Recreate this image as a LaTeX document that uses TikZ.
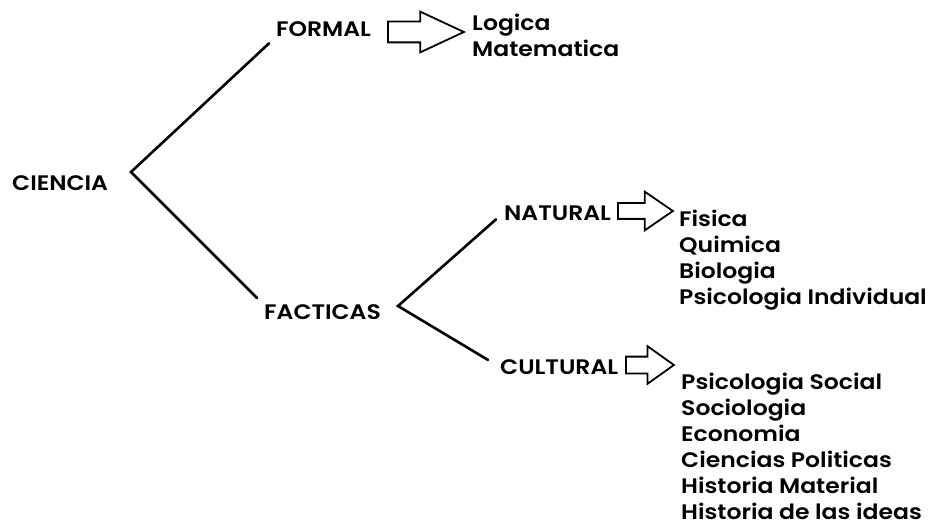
\documentclass[tikz,border=0pt]{standalone}
\usepackage{fontspec}
\setmainfont{Poppins}[UprightFont=* Medium, BoldFont=* SemiBold, FakeStretch=1.12]
\usetikzlibrary{
  calc, % Fuer Koordinatenberechnung
  shapes.arrows % Fuer die Blockpfeile
}

\begin{document}
\begin{tikzpicture}[
      x=1pt, y=-1pt,
      rama/.style={line width=2.6pt, black, line cap=round}, % Aeste
      term/.style={font=\fontsize{21}{26}\selectfont\bfseries, inner sep=3pt, anchor=base west}, % Begriffe
      lista/.style={font=\fontsize{21}{26}\selectfont\bfseries, inner sep=0pt, anchor=base west, align=left}, % Listen
      flecha/.style={single arrow, draw, line width=1.8pt, fill=white, anchor=tail,
        minimum height=75pt, inner sep=0pt, inner ysep=8pt,
        single arrow head extend=11pt, single arrow tip angle=56}, % Blockpfeil
    ]

    % Rahmen
    \useasboundingbox (0,0) rectangle (933,529);

    % Begriffe
    \node[term] (ciencia) at (9,191) {CIENCIA};
    \node[term] (formal) at (273,37) {FORMAL};
    \node[term] (facticas) at (261,319) {FACTICAS};
    \node[term] (natural) at (501,221) {NATURAL};
    \node[term] (cultural) at (497,374) {CULTURAL};

    % Listen (Grundlinie der letzten Zeile)
    \node[lista] (lformal) at (472,57) {Logica\\Matematica};
    \node[lista] (lnatural) at (679,304) {Fisica\\Quimica\\Biologia\\Psicologia Individual};
    \node[lista] (lcultural) at (681,519) {Psicologia Social\\Sociologia\\Economia\\Ciencias Politicas\\Historia Material\\Historia de las ideas};

    % Blockpfeile
    \node[flecha, minimum height=76pt, inner ysep=9.5pt, single arrow head extend=10pt,
      single arrow tip angle=50] (fformal) at (387,32) {};
    \node[flecha, minimum height=55pt, inner ysep=7pt, single arrow head extend=11.5pt,
      single arrow tip angle=69] (fnatural) at (617,211) {};
    \node[flecha, minimum height=48pt, inner ysep=7.5pt, single arrow head extend=10.5pt,
      single arrow tip angle=71] (fcultural) at (625,365) {};

    % Verzweigungen
    \coordinate (v1) at (131,172);
    \coordinate (v2) at (398,306);
    \draw[rama] ([shift={(-4,3)}]formal.south west) -- (v1) -- ([shift={(-4,-3)}]facticas.north west);
    \draw[rama] ([shift={(-5,-5)}]natural.south west) -- (v2) -- ([shift={(-9,4)}]cultural.north west);

  \end{tikzpicture}
\end{document}
